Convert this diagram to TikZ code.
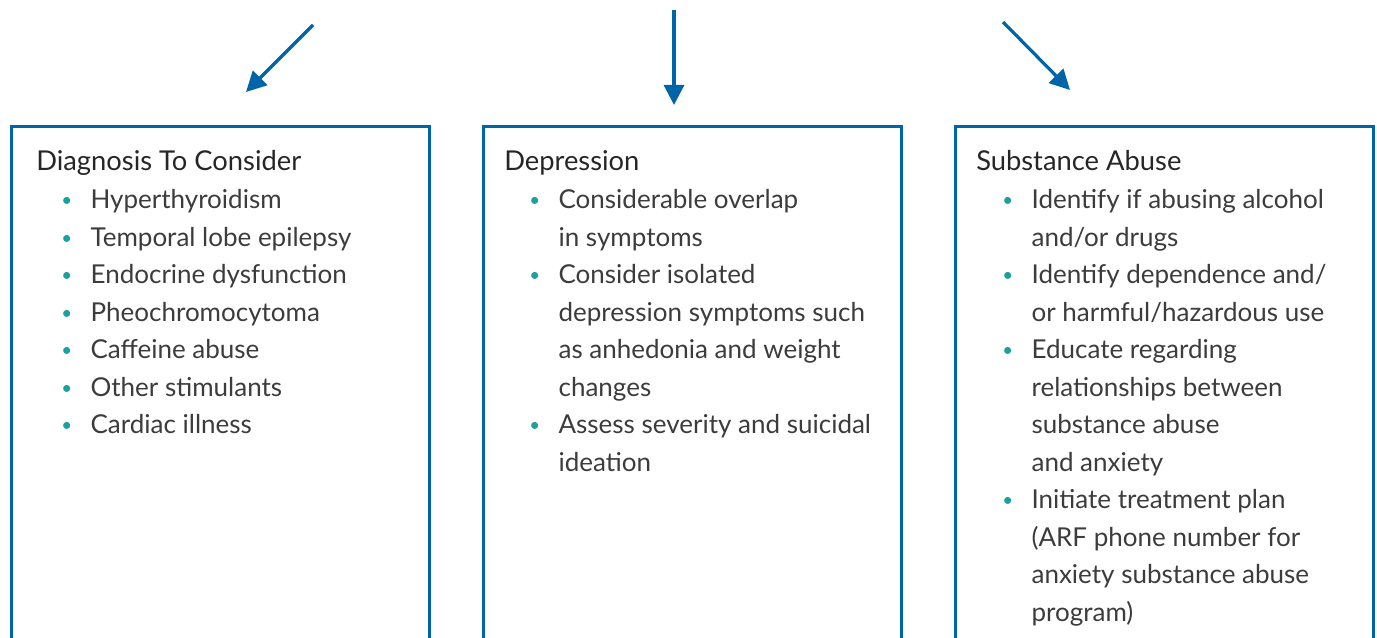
\documentclass[tikz,border=0pt]{standalone}
\usepackage{fontspec}
\setmainfont{Lato}
\usepackage{xcolor}
\usetikzlibrary{arrows.meta}
\usetikzlibrary{positioning}

\definecolor{boxblue}{RGB}{0,101,168}
\definecolor{bullteal}{RGB}{26,161,155}
\definecolor{txtgray}{RGB}{60,60,60}

\newcommand{\bl}{\makebox[22pt][l]{\textcolor{bullteal}{\raisebox{0.15ex}{\fontsize{14}{14}\selectfont•}}}}
\newcommand{\ct}{\hspace*{22pt}}

\tikzset{
  box/.style={draw=boxblue, line width=1.9pt, minimum width=313.5pt, minimum height=405pt, anchor=north west, inner sep=0pt},
  head/.style={anchor=base west, inner sep=0pt, text=black!85, font=\fontsize{20.5}{28}\selectfont},
  item/.style={anchor=base west, inner sep=0pt, text=txtgray, font=\fontsize{19.5}{28}\selectfont},
  flow/.style={draw=boxblue, line width=2.4pt, -{Triangle[length=15pt, width=15pt]}}
}

\begin{document}
\begin{tikzpicture}[x=0.75pt, y=-0.75pt]
					\useasboundingbox (0,0) rectangle (1377,638);
					\clip (0,0) rectangle (1377,638);
					
					% Boxes
					\node[box] (dgbox) at (10,125) {};
					\node[box] (dpbox) at (482,125) {};
					\node[box] (sabox) at (954,125) {};
					
					% Arrows
					\coordinate (dgtop) at (313,25);
					\coordinate (dgend) at (246,92);
					\coordinate (dptop) at (674,10);
					\coordinate (dpend) at (674,105);
					\coordinate (satop) at (1003,22);
					\coordinate (saend) at (1070,90);
					\draw[flow] (dgtop) -- (dgend);
					\draw[flow] (dptop) -- (dpend);
					\draw[flow] (satop) -- (saend);
					
					% Diagnosis
					\node[head] (dghead) at (36,171) {Diagnosis To Consider};
					\foreach \t [count=\i] in {\bl Hyperthyroidism, \bl Temporal lobe epilepsy,
						\bl Endocrine dysfunction, \bl Pheochromocytoma, \bl Caffeine abuse,
						\bl Other stimulants, \bl Cardiac illness} {
						\node[item] (dg\i) at (61,171+37.5*\i) {\t};
					}
					
					% Depression
					\node[head] (dphead) at (504,171) {Depression};
					\foreach \t [count=\i] in {\bl Considerable overlap, \ct in symptoms,
						\bl Consider isolated, \ct depression symptoms such,
						\ct as anhedonia and weight, \ct changes,
						\bl Assess severity and suicidal, \ct ideation} {
						\node[item] (dp\i) at (529,171+37.5*\i) {\t};
					}
					
					% Substance abuse
					\node[head] (sahead) at (976,171) {Substance Abuse};
					\foreach \t [count=\i] in {\bl Identify if abusing alcohol, \ct and/or drugs,
						\bl Identify dependence and/, \ct or harmful/hazardous use,
						\bl Educate regarding, \ct relationships between,
						\ct substance abuse, \ct and anxiety,
						\bl Initiate treatment plan, \ct (ARF phone number for,
						\ct anxiety substance abuse, \ct program)} {
						\node[item] (sa\i) at (1002,171+37.5*\i) {\t};
					}
				\end{tikzpicture}
\end{document}
